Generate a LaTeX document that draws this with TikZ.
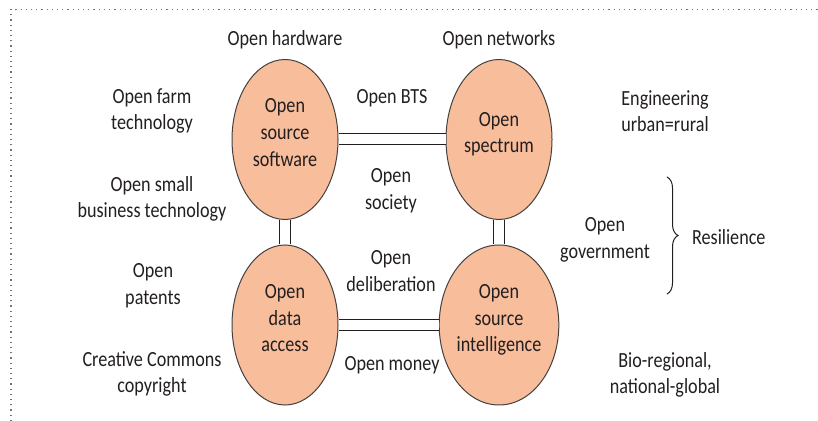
\documentclass[tikz,border=0pt]{standalone}
\usepackage{fontspec}
\setmainfont{Carlito}[FakeStretch=0.84]
\usepackage{tikz}
\usetikzlibrary{shapes.geometric,decorations.pathreplacing}
\definecolor{peach}{RGB}{248,189,154}
\definecolor{ink}{RGB}{35,31,32}

\begin{document}
\begin{tikzpicture}[x=0.5pt,y=-0.5pt,
  every node/.style={font=\fontsize{10.8}{13.3}\selectfont, text=ink, align=center},
  blob/.style={ellipse, draw=ink!85, line width=0.5pt, fill=peach,
    minimum width=53pt, minimum height=80pt, inner sep=0pt, text depth=7pt},
  link/.style={draw=ink, line width=0.5pt, double=white, double distance=5pt},
  frame/.style={draw=black!55, line width=0.6pt, dotted}]
  \useasboundingbox (0,0) rectangle (818,421);
  \draw[frame] (11,421) |- (818,9.5);

  \node[blob] (S) at (285,139.5) {Open\\source\\software};
  \node[blob] (P) at (499,139.5) {Open\\spectrum};
  \node[blob] (D) at (285,325) {Open\\data\\access};
  \node[blob] (I) at (499,325) {Open\\source\\intelligence};

  \draw[link] (S) -- (P);
  \draw[link] (D) -- (I);
  \draw[link] (S) -- (D);
  \draw[link] (P) -- (I);

  \node (hw) at (285,40) {Open hardware};
  \node (nw) at (499,40) {Open networks};
  \node (farm) at (152,111) {Open farm\\technology};
  \node (bts) at (392,98) {Open BTS};
  \node (eng) at (665,111) {Engineering\\urban=rural};
  \node (soc) at (391,191) {Open\\society};
  \node (biz) at (152,199) {Open small\\business technology};
  \node (gov) at (605,240) {Open\\government};
  \node (pat) at (153,286) {Open\\patents};
  \node (del) at (391,271) {Open\\deliberation};
  \node (cc) at (152,374) {Creative Commons\\copyright};
  \node (mon) at (392,365) {Open money};
  \node (bio) at (665,375) {Bio-regional,\\national-global};

  \coordinate (T) at (667,177);
  \coordinate (B) at (667,294);
  \draw[ink, line width=0.5pt, decorate, decoration={brace, amplitude=5.5pt}] (T) -- (B);
  \node[anchor=west] (res) at (685,237) {Resilience};
\end{tikzpicture}
\end{document}
